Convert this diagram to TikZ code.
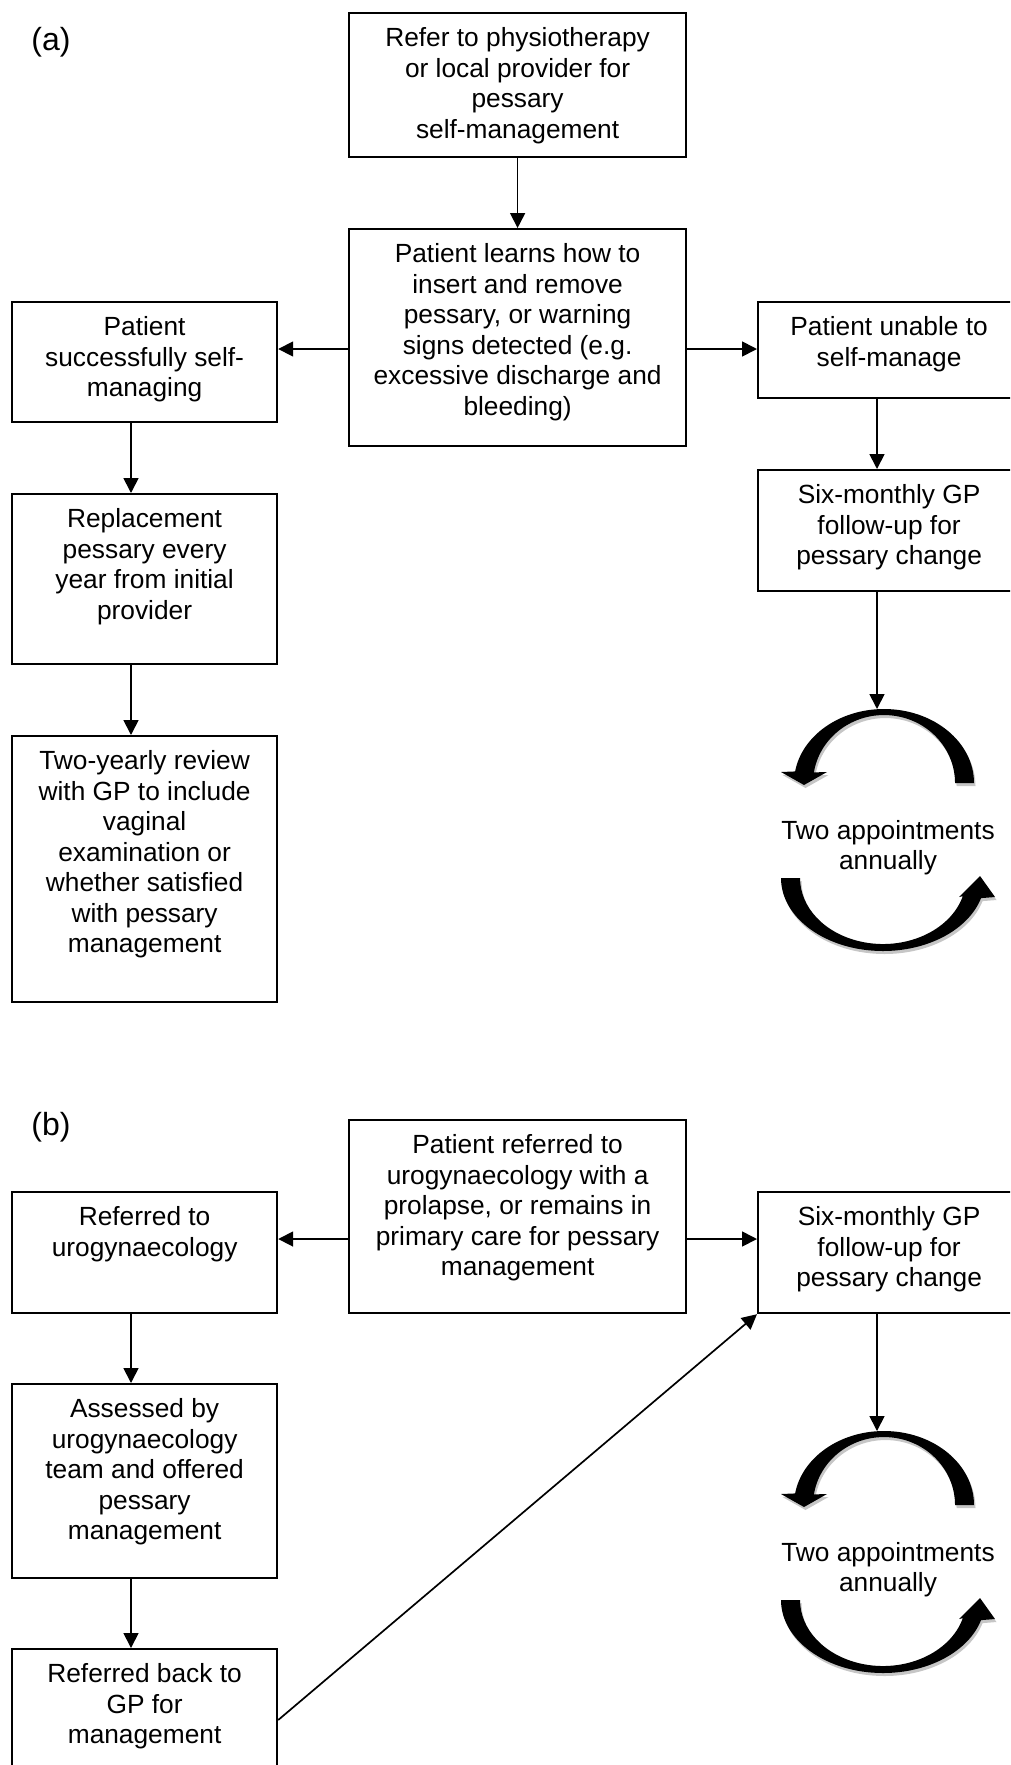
\documentclass[tikz,border=0pt]{standalone}
\usepackage{fontspec}
\setmainfont{Liberation Sans}
\usetikzlibrary{arrows.meta}
\newcommand{\boxtxt}[3]{\parbox[c][#2pt][t]{#1pt}{\centering\vspace*{12.5pt}\strut #3}}
\newcommand{\apptcycle}[3]{%
	\begin{scope}[shift={(#1,#2)}]
		\foreach \dx/\dy/\col in {1.5/3/gray!45, 0/0/black}{
			\fill[color=\col,shift={(\dx,\dy)}] (90,0) arc[start angle=0,end angle=-171,x radius=90,y radius=74] -- (-103,-11) -- (-80,2) -- (-57,-11) -- (-70.1,-10.6) arc[start angle=-171,end angle=0,x radius=71,y radius=68] -- cycle; %上の矢印
			\fill[color=\col,shift={(\dx,\dy)}] (-103,95) arc[start angle=180,end angle=16,x radius=102,y radius=73] -- (111,114) -- (96,93) -- (75,114) -- (78.8,113.2) arc[start angle=16,end angle=180,x radius=83,y radius=66] -- cycle; %下の矢印
		}
		\node[align=center] (#3) at (4,64.5) {Two appointments\\annually};
	\end{scope}}
\tikzset{box/.style={draw,line width=2.2pt,inner sep=0pt,anchor=north west},
	panel/.style={font=\fontsize{32}{36}\selectfont}}

\begin{document}
\begin{tikzpicture}[x=1pt,y=-1pt,line width=1.7pt,>={Triangle[length=15pt,width=15pt]},
	every node/.style={font=\fontsize{26.3}{30.5}\selectfont}]
		\useasboundingbox (0,0) rectangle (1010,1765);
		\clip (0,0) rectangle (1010,1765);
		% (a)
		\node[panel] (lbla) at (51,42) {(a)};
		\node[box] (refer) at (348,12) {\boxtxt{337}{144}{Refer to physiotherapy\\or local provider for\\pessary\\self-management}};
		\node[box] (learn) at (348,228) {\boxtxt{337}{217}{Patient learns how to\\insert and remove\\pessary, or warning\\signs detected (e.g.\\excessive discharge and\\bleeding)}};
		\node[box] (selfok) at (11,301) {\boxtxt{265}{120}{Patient\\successfully self-\\managing}};
		\node[box] (unable) at (757,301) {\boxtxt{262}{96}{Patient unable to\\self-manage}};
		\node[box] (replace) at (11,493) {\boxtxt{265}{170}{Replacement\\pessary every\\year from initial\\provider}};
		\node[box] (review) at (11,735) {\boxtxt{265}{266}{Two-yearly review\\with GP to include\\vaginal\\examination or\\whether satisfied\\with pessary\\management}};
		\node[box] (sixa) at (757,469) {\boxtxt{262}{121}{Six-monthly GP\\follow-up for\\pessary change}};
		\coordinate (rowa) at (0,349);
		\coordinate (cola) at (131,0);
		\coordinate (cyca) at (877,709); %円の上端
		\apptcycle{884}{783}{twoa}
		\draw[->] (refer) -- (learn);
		\draw[->] (learn.west |- rowa) -- (selfok.east |- rowa);
		\draw[->] (learn.east |- rowa) -- (unable.west |- rowa);
		\draw[->] (selfok.south -| cola) -- (replace.north -| cola);
		\draw[->] (replace.south -| cola) -- (review.north -| cola);
		\draw[->] (unable.south -| cyca) -- (sixa.north -| cyca);
		\draw[->] (sixa.south -| cyca) -- (cyca);
		% (b)
		\node[panel] (lblb) at (51,1127) {(b)};
		\node[box] (prim) at (348,1119) {\boxtxt{337}{193}{Patient referred to\\urogynaecology with a\\prolapse, or remains in\\primary care for pessary\\management}};
		\node[box] (urog) at (11,1191) {\boxtxt{265}{121}{Referred to\\urogynaecology}};
		\node[box] (sixb) at (757,1191) {\boxtxt{262}{121}{Six-monthly GP\\follow-up for\\pessary change}};
		\node[box] (assess) at (11,1383) {\boxtxt{265}{194}{Assessed by\\urogynaecology\\team and offered\\pessary\\management}};
		\node[box] (back) at (11,1648) {\boxtxt{265}{140}{Referred back to\\GP for\\management}};
		\coordinate (rowb) at (0,1239);
		\coordinate (diagb) at (0,1720);
		\coordinate (cycb) at (877,1431);
		\apptcycle{884}{1505}{twob}
		\draw[->] (prim.west |- rowb) -- (urog.east |- rowb);
		\draw[->] (prim.east |- rowb) -- (sixb.west |- rowb);
		\draw[->] (urog.south -| cola) -- (assess.north -| cola);
		\draw[->] (assess.south -| cola) -- (back.north -| cola);
		\draw[->] (back.east |- diagb) -- (sixb.south west);
		\draw[->] (sixb.south -| cycb) -- (cycb);
	\end{tikzpicture}
\end{document}
